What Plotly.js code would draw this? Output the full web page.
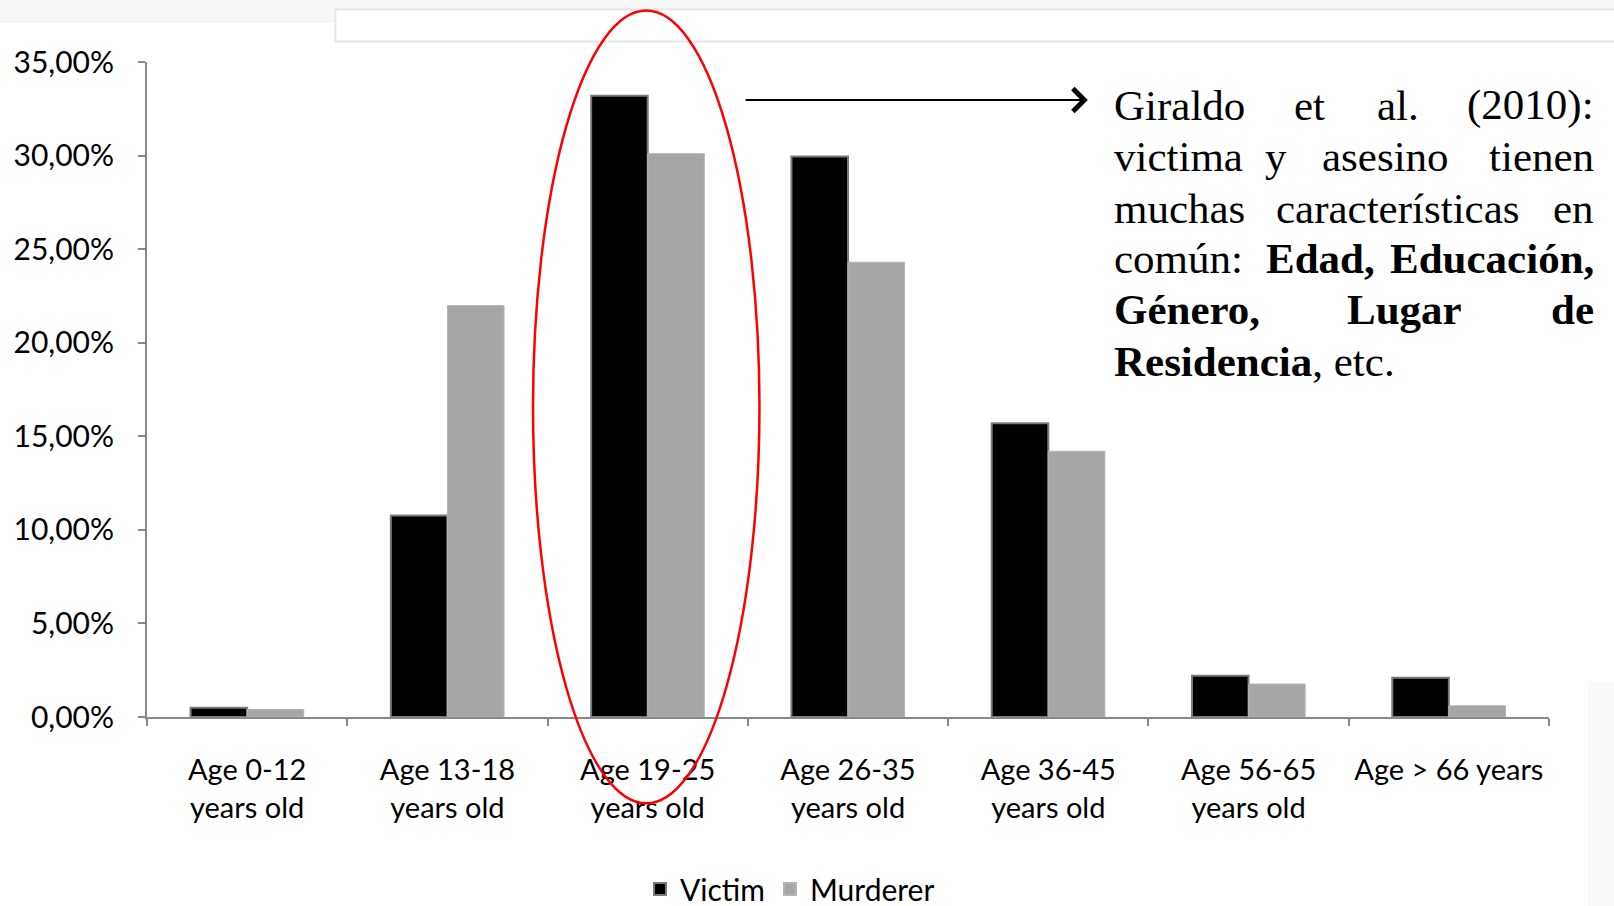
<!DOCTYPE html>
<html>
<head>
<meta charset="utf-8">
<script src="https://cdn.plot.ly/plotly-3.0.1.min.js"></script>
<style>html,body{margin:0;padding:0;background:#fff;}#chart{width:1614px;height:906px;}</style>
</head>
<body>
<div id="chart"></div>
<script>
const categories = ["Age 0-12<br>years old", "Age 13-18<br>years old", "Age 19-25<br>years old",
  "Age 26-35<br>years old", "Age 36-45<br>years old", "Age 56-65<br>years old", "Age > 66 years"];
const victimValues = [0.005, 0.1077, 0.3319, 0.2995, 0.157, 0.022, 0.021];
const murdererValues = [0.004, 0.2198, 0.301, 0.243, 0.142, 0.0176, 0.006];
const yTickValues = [0, 0.05, 0.10, 0.15, 0.20, 0.25, 0.30, 0.35];
const seriesNames = ["Victim", "Murderer"];

const W = 1614, H = 906;
const S = 1614 / 1568;           // measurements below taken at 1568-wide scale
const D = v => v * S;
const L = D(143), R = D(1505), T = D(60), B = D(697);
const px = x => (D(x) - L) / (R - L);
const py = y => (B - D(y)) / (B - T);

const traces = [
  {type: "bar", name: seriesNames[0], x: categories, y: victimValues,
   marker: {color: "#000000", line: {color: "#7a7a7a", width: 2}}, hoverinfo: "skip"},
  {type: "bar", name: seriesNames[1], x: categories, y: murdererValues,
   marker: {color: "#a6a6a6", line: {color: "#b4b4b4", width: 1}}, hoverinfo: "skip"}
];

const serif = "Liberation Serif, Times New Roman, serif";
const tsize = 43;
function word(text, x, y, anchor) {
  return {xref: "paper", yref: "paper", x: px(x), y: py(y), text: text, showarrow: false,
    xanchor: anchor, yanchor: "middle", font: {family: serif, size: tsize, color: "#000"}};
}
const lines = [102, 152, 202, 251, 301, 351];
const annotations = [
  word("Giraldo", 1080, lines[0], "left"),
  word("et", 1272, lines[0], "center"),
  word("al.", 1358, lines[0], "center"),
  word("(2010):", 1551, lines[0], "right"),
  word("victima", 1080, lines[1], "left"),
  word("y", 1240, lines[1], "center"),
  word("asesino", 1346, lines[1], "center"),
  word("tienen", 1551, lines[1], "right"),
  word("muchas", 1080, lines[2], "left"),
  word("características", 1358, lines[2], "center"),
  word("en", 1551, lines[2], "right"),
  word("común:", 1080, lines[3], "left"),
  word("<b>Edad,</b>", 1228, lines[3], "left"),
  word("<b>Educación,</b>", 1551, lines[3], "right"),
  word("<b>Género,</b>", 1080, lines[4], "left"),
  word("<b>Lugar</b>", 1365, lines[4], "center"),
  word("<b>de</b>", 1551, lines[4], "right"),
  word("<b>Residencia</b>, etc.", 1080, lines[5], "left"),
  {xref: "paper", yref: "paper", x: px(1057), y: py(97), text: "", showarrow: true,
   ax: -D(334), ay: 0, arrowhead: 4, arrowsize: 2.2, arrowwidth: 2, arrowcolor: "#000", standoff: 0}
];

const shapes = [
  {type: "rect", xref: "paper", yref: "paper", x0: px(0), x1: px(1568), y0: py(0), y1: py(22),
   fillcolor: "#f7f7f7", line: {width: 0}, layer: "below"},
  {type: "rect", xref: "paper", yref: "paper", x0: px(326), x1: px(1580), y0: py(9), y1: py(40),
   fillcolor: "#ffffff", line: {color: "#e6e6e6", width: 2}, layer: "below"},
  {type: "rect", xref: "paper", yref: "paper", x0: px(1543), x1: px(1580), y0: py(663), y1: py(900),
   fillcolor: "#fafafa", line: {width: 0}, layer: "below"},
  {type: "circle", xref: "paper", yref: "paper", x0: px(518), x1: px(738), y0: py(781), y1: py(10),
   line: {color: "#ff0000", width: 2.5}, fillcolor: "rgba(0,0,0,0)", layer: "above"}
];

const layout = {
  width: W, height: H,
  margin: {l: L, r: W - R, t: T, b: H - B, pad: 0, autoexpand: false},
  paper_bgcolor: "#ffffff", plot_bgcolor: "rgba(0,0,0,0)",
  separators: ",.",
  barmode: "group", bargap: 0.435, bargroupgap: 0,
  font: {family: "Lato, sans-serif", color: "#000"},
  showlegend: true,
  legend: {orientation: "h", xref: "container", yref: "container", x: 790 / W, y: 1 - 889 / H,
    xanchor: "center", yanchor: "middle",
    font: {size: 30, family: "Lato, sans-serif"}, itemwidth: 30, tracegroupgap: 0, itemsizing: "constant"},
  xaxis: {type: "category", tickson: "boundaries", ticks: "outside", ticklen: 7, tickwidth: 2,
    tickcolor: "#888", showline: true, linecolor: "#888", linewidth: 2, showgrid: false, automargin: false,
    tickfont: {size: 29, family: "Lato, sans-serif"}, zeroline: false, fixedrange: true, ticklabelstandoff: 26},
  yaxis: {range: [0, 0.35], tickvals: yTickValues, tickformat: ".2%", ticks: "outside", ticklen: 7,
    tickwidth: 2, tickcolor: "#888", showline: true, linecolor: "#888", linewidth: 2, showgrid: false,
    automargin: false,
    zeroline: false, tickfont: {size: 30, family: "Lato, sans-serif"}, fixedrange: true, ticklabelstandoff: 18},
  annotations: annotations,
  shapes: shapes
};

Plotly.newPlot("chart", traces, layout, {staticPlot: true});
</script>
</body>
</html>
